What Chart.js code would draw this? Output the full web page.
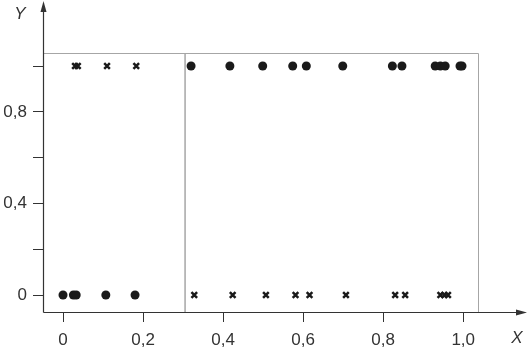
<!DOCTYPE html>
<html>
<head>
<meta charset="utf-8">
<script src="https://cdn.jsdelivr.net/npm/chart.js@4.4.1/dist/chart.umd.min.js"></script>
<style>
  html, body { margin: 0; padding: 0; background: #fff; }
  #wrap { width: 530px; height: 348px; position: relative; }
</style>
</head>
<body>
<div id="wrap"><canvas id="chart"></canvas></div>
<script>
// circles: class 0 below the threshold, class 1 above it
const dotsLowX = [0.0, 0.026, 0.033, 0.107, 0.18];
const dotsLowY = [0, 0, 0, 0, 0];
const dotsHighX = [0.32, 0.417, 0.499, 0.574, 0.608, 0.699, 0.823, 0.847, 0.93, 0.943, 0.955, 0.992, 0.997];
const dotsHighY = [1, 1, 1, 1, 1, 1, 1, 1, 1, 1, 1, 1, 1];

// crosses: the opposite labels
const crossHighX = [0.03, 0.037, 0.11, 0.183];
const crossHighY = [1, 1, 1, 1];
const crossLowX = [0.328, 0.424, 0.507, 0.581, 0.616, 0.707, 0.83, 0.855, 0.943, 0.953, 0.962];
const crossLowY = [0, 0, 0, 0, 0, 0, 0, 0, 0, 0, 0];

const splitX = [0.305]; // vertical split line
const xTicks = [0, 0.2, 0.4, 0.6, 0.8, 1.0];
const yTicks = [0, 0.2, 0.4, 0.6, 0.8, 1.0];
const yLabelled = [0, 0.4, 0.8];

const toPts = (xs, ys) => xs.map((x, i) => ({ x: x, y: ys[i] }));
const fmt = (v) => (v === 0 ? "0" : v.toFixed(1).replace(".", ","));

const INK = "#1a1a1a";
const AXIS = "#333333";
const GREY = "#a6a6a6";
const FONT = "'Liberation Sans', Arial, sans-serif";

// grey box, split line, axis lines with arrows, axis titles
const decor = {
  id: "decor",
  beforeDatasetsDraw(chart) {
    const { ctx, chartArea: a, scales } = chart;
    ctx.save();
    ctx.strokeStyle = GREY;
    ctx.lineWidth = 1;
    ctx.beginPath();
    ctx.moveTo(a.left, a.top + 0.5);
    ctx.lineTo(a.right + 0.5, a.top + 0.5);
    ctx.lineTo(a.right + 0.5, a.bottom);
    ctx.stroke();

    ctx.lineWidth = 1.5;
    splitX.forEach((v) => {
      const px = scales.x.getPixelForValue(v);
      ctx.beginPath();
      ctx.moveTo(px, a.top);
      ctx.lineTo(px, a.bottom);
      ctx.stroke();
    });
    ctx.restore();
  },
  afterDraw(chart) {
    const { ctx, chartArea: a } = chart;
    const W = chart.width;
    ctx.save();
    ctx.strokeStyle = AXIS;
    ctx.fillStyle = AXIS;
    ctx.lineWidth = 1.2;
    const ax = a.left + 0.5, ay = a.bottom + 0.5;
    ctx.beginPath();
    ctx.moveTo(ax, ay);
    ctx.lineTo(ax, 8);
    ctx.moveTo(ax, ay);
    ctx.lineTo(W - 8, ay);
    ctx.stroke();
    // arrow heads
    ctx.beginPath();
    ctx.moveTo(ax, 1);
    ctx.lineTo(ax - 3, 12);
    ctx.lineTo(ax + 3, 12);
    ctx.closePath();
    ctx.fill();
    ctx.beginPath();
    ctx.moveTo(W - 3, ay);
    ctx.lineTo(W - 14, ay - 3);
    ctx.lineTo(W - 14, ay + 3);
    ctx.closePath();
    ctx.fill();

    ctx.font = "italic 17px " + FONT;
    ctx.textAlign = "center";
    ctx.textBaseline = "middle";
    ctx.fillText("Y", 20, 14);
    ctx.fillText("X", 517, 338);
    ctx.restore();
  },
};

const tickGrid = {
  display: true,
  drawOnChartArea: false,
  drawTicks: true,
  tickLength: 10,
  color: AXIS,
  lineWidth: 1,
};
const tickFont = { family: FONT, size: 17 };

new Chart(document.getElementById("chart"), {
  type: "scatter",
  data: {
    datasets: [
      { data: toPts(dotsLowX, dotsLowY), pointStyle: "circle", pointRadius: 4.5, backgroundColor: INK, borderWidth: 0 },
      { data: toPts(dotsHighX, dotsHighY), pointStyle: "circle", pointRadius: 4.5, backgroundColor: INK, borderWidth: 0 },
      { data: toPts(crossHighX, crossHighY), pointStyle: "crossRot", pointRadius: 4, borderColor: INK, borderWidth: 2.5 },
      { data: toPts(crossLowX, crossLowY), pointStyle: "crossRot", pointRadius: 4, borderColor: INK, borderWidth: 2.5 },
    ],
  },
  options: {
    responsive: true,
    maintainAspectRatio: false,
    animation: false,
    layout: { padding: { top: 53, right: 52, left: 0, bottom: 0 } },
    plugins: { legend: { display: false }, tooltip: { enabled: false } },
    scales: {
      x: {
        type: "linear",
        min: -0.05,
        max: 1.037,
        afterBuildTicks: (s) => { s.ticks = xTicks.map((v) => ({ value: v })); },
        afterFit: (s) => { s.height = 36; },
        grid: tickGrid,
        border: { display: false },
        ticks: { color: AXIS, font: tickFont, padding: 8, maxRotation: 0, autoSkip: false, callback: (v) => fmt(v) },
      },
      y: {
        type: "linear",
        min: -0.074,
        max: 1.057,
        afterBuildTicks: (s) => { s.ticks = yTicks.map((v) => ({ value: v })); },
        afterFit: (s) => { s.width = 43; },
        grid: tickGrid,
        border: { display: false },
        ticks: {
          color: AXIS, font: tickFont, padding: 6, autoSkip: false,
          callback: (v) => (yLabelled.some((t) => Math.abs(t - v) < 1e-9) ? fmt(v) : ""),
        },
      },
    },
  },
  plugins: [decor],
});
</script>
</body>
</html>
